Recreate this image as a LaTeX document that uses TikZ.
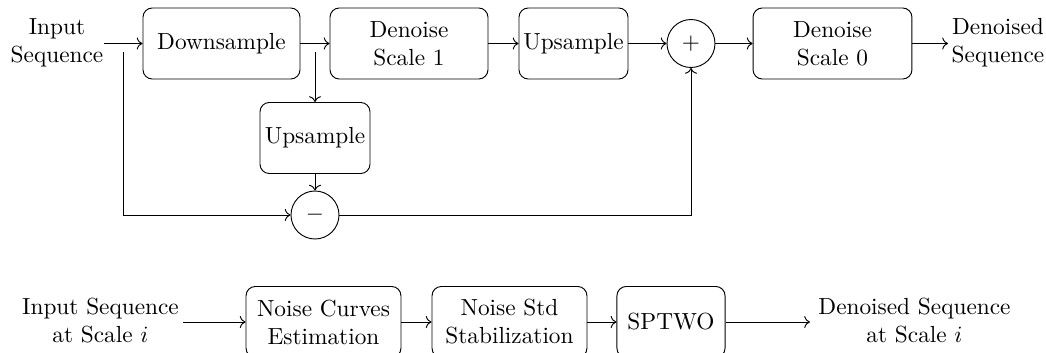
\documentclass[tikz,border=0pt]{standalone}
\usetikzlibrary{arrows.meta}
\begin{document}
\begin{tikzpicture}[x=0.4292pt,y=-0.4292pt,
  block/.style={draw,rounded corners,align=center,inner sep=1pt,
    minimum height=30.5pt},
  sumnode/.style={draw,circle,minimum size=20.6pt,inner sep=0pt},
  label/.style={align=center,inner sep=0pt},
  flow/.style={->}]
\useasboundingbox (0,0) rectangle (1046,353);

% multi-scale pipeline
\node[label] (in) at (57,43) {Input\\Sequence};
\node[block,minimum width=67.4pt] (down) at (221.5,43.5) {Downsample};
\node[block,minimum width=67.8pt] (den1) at (409,43.5) {Denoise\\Scale 1};
\node[block,minimum width=46.8pt] (up1) at (573.5,43.5) {Upsample};
\node[sumnode] (plus) at (691,43.5) {$+$};
\node[block,minimum width=68.2pt] (den0) at (832.5,43.5) {Denoise\\Scale 0};
\node[label] (out) at (998,43) {Denoised\\Sequence};
\node[block,minimum width=47.2pt] (up2) at (315,138) {Upsample};
\node[sumnode] (minus) at (315,215) {$-$};

\coordinate (inmid) at (104,43.5);
\coordinate (brtop) at (123,52);
\coordinate (brbot) at (123,215);
\coordinate (tap) at (315,52);
\coordinate (corner) at (691,215);

\draw[flow] (inmid) -- (down.west);
\draw[flow] (down.east) -- (den1.west);
\draw[flow] (den1.east) -- (up1.west);
\draw[flow] (up1.east) -- (plus.west);
\draw[flow] (plus.east) -- (den0.west);
\draw[flow] (den0.east) -- (948,43.5);
\draw[flow] (tap) -- (up2.north);
\draw[flow] (up2.south) -- (minus.north);
\draw[flow] (brtop) -- (brbot) -- (minus.west);
\draw[flow] (minus.east) -- (corner) -- (plus.south);

% single-scale denoiser
\node[label] (inb) at (100.5,321) {Input Sequence\\at Scale $i$};
\node[block,minimum width=66.5pt] (nce) at (323.5,322) {Noise Curves\\Estimation};
\node[block,minimum width=66.5pt] (nss) at (509.5,322) {Noise Std\\Stabilization};
\node[block,minimum width=46.4pt] (sp) at (671,322) {SPTWO};
\node[label] (outb) at (914.5,321) {Denoised Sequence\\at Scale $i$};

\draw[flow] (183,322) -- (nce.west);
\draw[flow] (nce.east) -- (nss.west);
\draw[flow] (nss.east) -- (sp.west);
\draw[flow] (sp.east) -- (810,322);
\end{tikzpicture}
\end{document}
